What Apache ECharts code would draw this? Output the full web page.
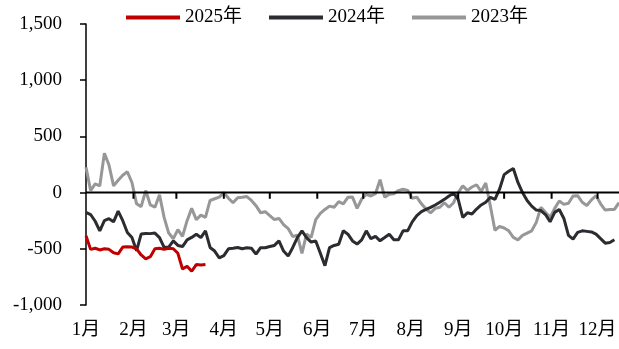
<!DOCTYPE html>
<html><head><meta charset="utf-8">
<script src="https://cdn.jsdelivr.net/npm/echarts@6/dist/echarts.min.js"></script>
<style>html,body{margin:0;padding:0;background:#fff}#c{width:619px;height:349px}</style>
</head><body><div id="c"></div>
<script>
// day-of-year sampling step (days) for all series
const STEP = 3;
const monthNames = ['1月','2月','3月','4月','5月','6月','7月','8月','9月','10月','11月','12月'];
const monthStartDays = [0,31,59,90,120,151,181,212,243,273,304,334];
const seriesNames = ['2025年','2024年','2023年'];

const v2025 = [-384,-505,-495,-510,-500,-505,-535,-545,-485,-482,-485,-500,-555,-590,-570,-500,-495,-505,-495,-500,-540,-680,-655,-700,-640,-645,-640];

const v2024 = [-176,-195,-255,-340,-250,-232,-260,-165,-250,-355,-400,-518,-369,-363,-365,-360,-400,-488,-485,-430,
  -470,-480,-420,-399,-370,-400,-340,-488,-520,-580,-560,-500,-495,-488,-500,-490,-495,-548,-490,-490,
  -480,-470,-430,-520,-565,-488,-400,-340,-400,-440,-430,-540,-650,-490,-470,-460,-340,-370,-430,-458,
  -420,-340,-410,-390,-429,-400,-370,-420,-420,-340,-340,-260,-205,-170,-150,-131,-110,-86,-60,-30,
  -5,-60,-220,-180,-190,-146,-110,-86,-42,-60,30,160,190,215,90,0,-71,-120,-155,-160,
  -195,-260,-176,-150,-230,-380,-414,-354,-340,-345,-350,-369,-410,-450,-444,-420];

const v2023 = [226,18,77,60,350,245,60,110,155,185,90,-100,-125,18,-110,-130,-20,-220,-360,-410,
  -330,-390,-250,-140,-240,-200,-220,-70,-55,-40,0,-50,-90,-45,-42,-35,-70,-116,-180,-170,
  -205,-240,-230,-285,-320,-390,-380,-540,-369,-399,-240,-185,-150,-120,-130,-80,-100,-42,-40,-140,
  -57,-15,-30,-10,115,-40,-15,-10,18,30,20,-50,-40,-100,-146,-180,-140,-130,-90,-130,
  -90,0,60,20,50,70,10,85,-120,-335,-300,-315,-340,-399,-420,-380,-360,-340,-265,-131,
  -176,-220,-140,-75,-105,-95,-30,-27,-86,-115,-65,-27,-100,-155,-150,-150,-90];

const colors = ['#C00000','#2B2B30','#979797'];
const FONT = '"Liberation Serif","Times New Roman","Noto Sans CJK SC",serif';
const X_MAX = 348, Y_MIN = -1000, Y_MAX = 1500;
const TICK_LEN_VALUE = 54; // ~6px of the value scale
const toPairs = arr => arr.map((v,i)=>[i*STEP, v]);
const fmtNum = v => (v<0?'-':'') + Math.abs(v).toString().replace(/\B(?=(\d{3})+(?!\d))/g, ',');

// zero-line axis and month ticks drawn through the scales
const zeroLine = [[0,0],[X_MAX,0]];
const zeroTicks = [];
monthStartDays.slice(1).forEach(d => { zeroTicks.push([d,0],[d,-TICK_LEN_VALUE],[d,null]); });

const chart = echarts.init(document.getElementById('c'), null, {renderer:'canvas'});
chart.setOption({
  animation:false,
  backgroundColor:'#fff',
  legend:{
    top:8, left:126, padding:0, icon:'rect', itemWidth:54, itemHeight:4, itemGap:27,
    textStyle:{fontFamily:FONT, fontSize:19, color:'#000'},
    data:seriesNames
  },
  grid:{left:86, right:0, top:24, bottom:44, outerBoundsMode:'none', containLabel:false},
  xAxis:{
    type:'value', min:0, max:X_MAX, position:'bottom',
    axisLine:{show:false, onZero:false},
    axisTick:{show:false},
    axisLabel:{show:true, margin:16, customValues:monthStartDays,
      formatter:v=>monthNames[monthStartDays.indexOf(v)],
      fontFamily:FONT, fontSize:19, color:'#000'},
    splitLine:{show:false}
  },
  yAxis:{
    type:'value', min:Y_MIN, max:Y_MAX, interval:500,
    axisLine:{show:true, onZero:false, lineStyle:{color:'#000', width:1.5}},
    axisTick:{show:true, inside:false, length:6, lineStyle:{color:'#000', width:1.5}},
    axisLabel:{margin:24, formatter:fmtNum, fontFamily:FONT, fontSize:19, color:'#000'},
    splitLine:{show:false}
  },
  series:[
    {name:'zeroLine', type:'line', data:zeroLine, symbol:'none', silent:true, z:5,
     lineStyle:{width:2, color:'#000'}, itemStyle:{color:'#000'}},
    {name:'zeroTicks', type:'line', data:zeroTicks, symbol:'none', silent:true, z:5,
     connectNulls:false, lineStyle:{width:2, color:'#000'}, itemStyle:{color:'#000'}},
    {name:seriesNames[2], type:'line', data:toPairs(v2023), symbol:'none', z:2,
     lineStyle:{width:3, color:colors[2]}, itemStyle:{color:colors[2]}},
    {name:seriesNames[1], type:'line', data:toPairs(v2024), symbol:'none', z:3,
     lineStyle:{width:3, color:colors[1]}, itemStyle:{color:colors[1]}},
    {name:seriesNames[0], type:'line', data:toPairs(v2025), symbol:'none', z:4,
     lineStyle:{width:3, color:colors[0]}, itemStyle:{color:colors[0]}}
  ]
});
</script></body></html>
